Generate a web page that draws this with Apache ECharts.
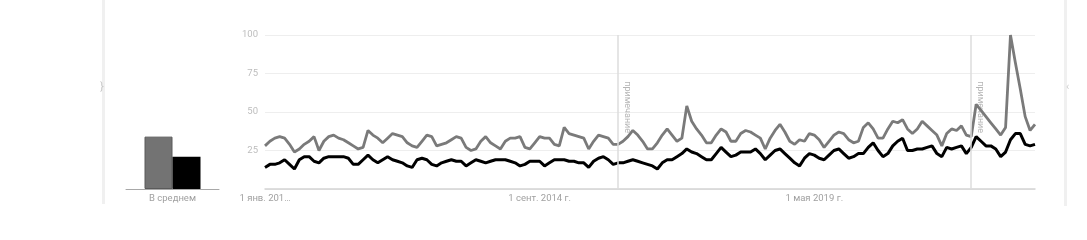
<!DOCTYPE html>
<html><head><meta charset="utf-8">
<script src="https://cdn.jsdelivr.net/npm/echarts@6/dist/echarts.min.js"></script>
<style>html,body{margin:0;padding:0;background:#fff}#c{width:1087px;height:240px}</style>
</head><body><div id="c"></div>
<script>
// Monthly data, Jan 2010 .. Feb 2023
const startYear = 2010, startMonth = 0, monthCount = 158;
const seriesGray = [28,31,33,34,33,29,24,26,29,31,34,25,31,34,35,33,32,30,28,26,27,38,35,33,30,33,36,35,34,30,28,27,31,35,34,28,29,30,32,34,33,27,25,26,31,34,30,28,26,31,33,33,34,27,26,30,34,33,33,29,28,40,36,35,34,33,26,31,35,34,33,29,29,31,34,38,35,31,26,26,30,35,39,35,31,33,54,44,39,35,30,30,35,39,37,31,31,36,38,37,35,33,26,33,38,42,37,31,29,32,31,36,35,32,27,31,35,37,36,32,30,31,40,43,39,33,33,39,44,43,45,39,36,39,44,41,38,35,28,36,39,38,41,35,34,55,51,47,43,39,35,40,100,82,65,47,38,42];
const seriesBlack = [14,16,16,17,19,16,13,19,21,21,18,17,20,21,21,21,21,20,16,16,19,22,19,17,19,21,19,18,17,15,14,19,20,19,16,15,17,18,19,18,18,15,17,19,18,17,18,19,19,19,18,17,15,16,18,18,18,15,17,19,19,19,18,18,17,17,14,18,20,21,19,16,17,17,18,19,18,17,16,15,13,17,19,19,21,23,26,24,23,21,19,19,23,27,24,21,22,24,24,24,26,23,19,22,25,26,23,20,17,15,20,23,22,20,19,22,25,26,23,20,21,23,23,27,30,25,21,23,28,31,33,25,25,26,26,27,28,23,21,27,26,27,28,23,27,34,31,28,28,26,21,24,32,36,36,29,28,29];
const averageCategories = ['В среднем'];
const averageGray = [34];
const averageBlack = [21];
const yTicks = [0, 25, 50, 75, 100];
const xTickLabels = {0: '1 янв. 201…', 56: '1 сент. 2014 г.', 112: '1 мая 2019 г.'};
const noteIndices = [72, 144];
const noteText = 'примечание';

const months = [];
for (let i = 0; i < monthCount; i++) {
  const y = startYear + Math.floor((startMonth + i) / 12);
  const m = (startMonth + i) % 12 + 1;
  months.push(y + '-' + (m < 10 ? '0' : '') + m);
}

const chart = echarts.init(document.getElementById('c'), null, {renderer: 'canvas'});
const font = 'Roboto, "Noto Sans", sans-serif';
const option = {
  animation: false,
  backgroundColor: '#ffffff',
  textStyle: {fontFamily: font},
  grid: [
    {left: 265, right: 52, top: 35, bottom: 51},
    {left: 126, width: 93, top: 35, bottom: 51}
  ],
  xAxis: [
    {
      type: 'category', gridIndex: 0, data: months, boundaryGap: false,
      axisLine: {lineStyle: {color: '#d4d4d4', width: 1.5}},
      axisTick: {show: false},
      splitLine: {show: false},
      axisLabel: {
        interval: (idx) => xTickLabels[idx] !== undefined,
        formatter: (v, idx) => xTickLabels[idx] || '',
        color: '#a0a0a0', fontSize: 9.5, margin: 5, fontFamily: font
      }
    },
    {
      type: 'category', gridIndex: 1, data: averageCategories,
      axisLine: {lineStyle: {color: '#a8a8a8', width: 1}},
      axisTick: {show: false},
      axisLabel: {color: '#a0a0a0', fontSize: 9.5, margin: 5, fontFamily: font}
    }
  ],
  yAxis: [
    {
      type: 'value', gridIndex: 0, min: yTicks[0], max: yTicks[yTicks.length - 1], interval: 25,
      axisLine: {show: false}, axisTick: {show: false},
      splitLine: {lineStyle: {color: '#eeeeee', width: 1}},
      axisLabel: {color: '#bdbdbd', fontSize: 9.5, margin: 7, fontFamily: font,
        formatter: (v) => (v === 0 ? '' : String(v))}
    },
    {
      type: 'value', gridIndex: 1, min: 0, max: 100, show: false
    }
  ],
  series: [
    {
      type: 'line', xAxisIndex: 0, yAxisIndex: 0, data: seriesGray,
      symbol: 'none', lineStyle: {color: '#7a7a7a', width: 2.8}, z: 3,
      markLine: {
        silent: true, symbol: 'none', label: {show: false},
        lineStyle: {color: '#dcdcdc', width: 1.5, type: 'solid'},
        data: noteIndices.map(i => ({xAxis: i}))
      }
    },
    {
      type: 'line', xAxisIndex: 0, yAxisIndex: 0, data: seriesBlack,
      symbol: 'none', lineStyle: {color: '#000000', width: 3}, z: 4
    },
    {
      type: 'bar', xAxisIndex: 1, yAxisIndex: 1, data: averageGray,
      barWidth: 28, barGap: '0%',
      itemStyle: {color: '#737373', borderColor: '#5a5a5a', borderWidth: 1}
    },
    {
      type: 'bar', xAxisIndex: 1, yAxisIndex: 1, data: averageBlack,
      barWidth: 28, barGap: '0%',
      itemStyle: {color: '#000000'}
    }
  ]
};
chart.setOption(option);

// annotation labels placed through the chart's own scales
const graphics = [
  {type: 'rect', shape: {x: 102, y: 0, width: 3, height: 204}, style: {fill: '#f0f0f0'}, silent: true},
  {type: 'rect', shape: {x: 1064, y: 0, width: 3, height: 206}, style: {fill: '#f0f0f0'}, silent: true},
  {type: 'text', x: 100, y: 82, style: {text: '}', fill: '#c8c8c8', font: '11px ' + font}, silent: true},
  {type: 'text', x: 1066, y: 82, style: {text: '‹', fill: '#d0d0d0', font: '11px ' + font}, silent: true}
];
noteIndices.forEach(i => {
  const p = chart.convertToPixel({xAxisIndex: 0, yAxisIndex: 0}, [i, 70]);
  graphics.push({
    type: 'text', x: p[0] + 5, y: p[1], rotation: -Math.PI / 2,
    style: {text: noteText, fill: '#b5b5b5', font: '9px ' + font, textAlign: 'left', textVerticalAlign: 'bottom'},
    silent: true
  });
});
chart.setOption({graphic: graphics});
</script>
</body></html>
